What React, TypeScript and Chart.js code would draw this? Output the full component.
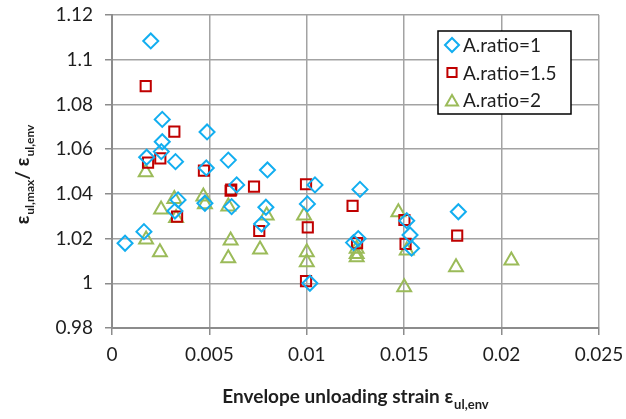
import React, { useEffect, useRef } from 'react';
import { Chart, registerables } from 'chart.js';

Chart.register(...registerables);

// Envelope unloading strain (x) and peak unloading strain ratio (y), per aspect ratio
const strainAR1 = [0.00067, 0.00164, 0.00199, 0.00178, 0.00258, 0.00258, 0.00253, 0.00326, 0.00488, 0.00484, 0.00597, 0.00798, 0.0064, 0.00477, 0.00339, 0.00323, 0.00614, 0.0079, 0.00768, 0.01042, 0.01003, 0.01016, 0.01273, 0.01264, 0.0124, 0.01513, 0.0153, 0.01538, 0.01778];
const ratioAR1 = [1.0179, 1.0231, 1.1084, 1.0564, 1.0733, 1.0633, 1.0589, 1.0544, 1.0677, 1.0516, 1.0551, 1.0507, 1.044, 1.0358, 1.0373, 1.0323, 1.0343, 1.034, 1.0265, 1.044, 1.0355, 1.0, 1.042, 1.02, 1.0182, 1.028, 1.0216, 1.0157, 1.032];

const strainAR15 = [0.00173, 0.0032, 0.00248, 0.00185, 0.00472, 0.00609, 0.00612, 0.00729, 0.00334, 0.00756, 0.00996, 0.01005, 0.00996, 0.01235, 0.01258, 0.01501, 0.01507, 0.01772];
const ratioAR15 = [1.0882, 1.0678, 1.0559, 1.054, 1.0504, 1.0414, 1.0419, 1.0432, 1.0298, 1.0234, 1.0443, 1.025, 1.001, 1.0346, 1.018, 1.0283, 1.0176, 1.0213];

const strainAR2 = [0.00173, 0.0032, 0.00252, 0.00329, 0.00175, 0.00246, 0.00469, 0.00477, 0.00597, 0.00794, 0.00609, 0.00597, 0.0076, 0.00986, 0.01, 0.01, 0.01256, 0.01256, 0.01256, 0.0147, 0.01513, 0.015, 0.01766, 0.0205];
const ratioAR2 = [1.0497, 1.0377, 1.033, 1.0292, 1.0196, 1.0139, 1.0388, 1.0354, 1.0343, 1.0303, 1.0191, 1.0112, 1.0151, 1.0303, 1.0139, 1.0094, 1.0154, 1.0131, 1.0116, 1.0318, 1.0147, 0.9982, 1.0072, 1.0102];

const seriesLabels = ['A.ratio=1', 'A.ratio=1.5', 'A.ratio=2'];
const xTickLabels = ['0', '0.005', '0.01', '0.015', '0.02', '0.025'];
const yTickLabels = ['0.98', '1', '1.02', '1.04', '1.06', '1.08', '1.1', '1.12'];

const BLUE = '#12aef0';
const RED = '#c00000';
const GREEN = '#9bbb59';
const FONT = 'Lato, "Open Sans", sans-serif';
const TEXT = '#1e1e1e';

const toPoints = (xs: number[], ys: number[]) => xs.map((x, i) => ({ x, y: ys[i] }));

const pickLabel = (labels: string[], value: number) => {
  const hit = labels.find((l) => Math.abs(Number(l) - value) < 1e-9);
  return hit === undefined ? '' : hit;
};

type Part = { text: string; sub?: string };

// Draws a run of text with subscripts, centred on (cx, baseline)
function drawSubscripted(ctx: CanvasRenderingContext2D, parts: Part[], cx: number, baseline: number, mainSize: number, subSize: number) {
  const mainFont = `bold ${mainSize}px ${FONT}`;
  const subFont = `bold ${subSize}px ${FONT}`;
  let total = 0;
  parts.forEach((p) => {
    ctx.font = mainFont;
    total += ctx.measureText(p.text).width;
    if (p.sub) {
      ctx.font = subFont;
      total += ctx.measureText(p.sub).width + 1;
    }
  });
  let x = cx - total / 2;
  ctx.textAlign = 'left';
  ctx.textBaseline = 'alphabetic';
  ctx.fillStyle = TEXT;
  parts.forEach((p) => {
    ctx.font = mainFont;
    ctx.fillText(p.text, x, baseline);
    x += ctx.measureText(p.text).width;
    if (p.sub) {
      ctx.font = subFont;
      ctx.fillText(p.sub, x + 1, baseline + subSize * 0.45);
      x += ctx.measureText(p.sub).width + 1;
    }
  });
}

function drawMarker(ctx: CanvasRenderingContext2D, style: string, x: number, y: number, r: number, color: string) {
  ctx.save();
  ctx.strokeStyle = color;
  ctx.lineWidth = 2;
  ctx.beginPath();
  if (style === 'rectRot') {
    ctx.moveTo(x - r, y);
    ctx.lineTo(x, y - r);
    ctx.lineTo(x + r, y);
    ctx.lineTo(x, y + r);
    ctx.closePath();
  } else if (style === 'rect') {
    const s = r * Math.SQRT1_2;
    ctx.rect(x - s, y - s, 2 * s, 2 * s);
  } else {
    const h = r * 0.866;
    ctx.moveTo(x, y - r);
    ctx.lineTo(x + h, y + r / 2);
    ctx.lineTo(x - h, y + r / 2);
    ctx.closePath();
  }
  ctx.stroke();
  ctx.restore();
}

const titlesAndKey = {
  id: 'titlesAndKey',
  afterDraw(chart: any) {
    const ctx: CanvasRenderingContext2D = chart.ctx;
    const area = chart.chartArea;
    ctx.save();

    // x-axis title
    drawSubscripted(ctx, [{ text: 'Envelope unloading strain ε', sub: 'ul,env' }], (area.left + area.right) / 2, 403, 19, 13);

    // y-axis title, rotated
    ctx.save();
    ctx.translate(29, (area.top + area.bottom) / 2 + 3);
    ctx.rotate(-Math.PI / 2);
    drawSubscripted(ctx, [{ text: 'ε', sub: 'ul,max' }, { text: '/ ε', sub: 'ul,env' }], 0, 0, 19, 12);
    ctx.restore();

    // key box
    const bx = 438, by = 31, bw = 133, bh = 83;
    ctx.fillStyle = '#ffffff';
    ctx.fillRect(bx, by, bw, bh);
    ctx.strokeStyle = '#000000';
    ctx.lineWidth = 1.5;
    ctx.strokeRect(bx, by, bw, bh);

    const rowY = [45, 72.5, 100];
    chart.data.datasets.forEach((ds: any, i: number) => {
      const cy = rowY[i];
      const cyMarker = ds.pointStyle === 'triangle' ? cy + 2 : cy;
      drawMarker(ctx, ds.pointStyle, 452, cyMarker, ds.pointStyle === 'rect' ? 6.5 : 7, ds.borderColor);
      ctx.font = `19px ${FONT}`;
      ctx.fillStyle = TEXT;
      ctx.textAlign = 'left';
      ctx.textBaseline = 'middle';
      ctx.fillText(ds.label, 463, cy + 1);
    });
    ctx.restore();
  },
};

export default function App() {
  const canvasRef = useRef<HTMLCanvasElement | null>(null);

  useEffect(() => {
    document.body.style.margin = '0';
    const canvas = canvasRef.current;
    if (!canvas) return;

    const chart = new Chart(canvas, {
      type: 'scatter',
      data: {
        datasets: [
          {
            label: seriesLabels[0],
            data: toPoints(strainAR1, ratioAR1),
            pointStyle: 'rectRot',
            pointRadius: 7.5,
            borderColor: BLUE,
            backgroundColor: 'rgba(0,0,0,0)',
            borderWidth: 2,
          },
          {
            label: seriesLabels[1],
            data: toPoints(strainAR15, ratioAR15),
            pointStyle: 'rect',
            pointRadius: 7.2,
            borderColor: RED,
            backgroundColor: 'rgba(0,0,0,0)',
            borderWidth: 2,
          },
          {
            label: seriesLabels[2],
            data: toPoints(strainAR2, ratioAR2),
            pointStyle: 'triangle',
            pointRadius: 8,
            borderColor: GREEN,
            backgroundColor: 'rgba(0,0,0,0)',
            borderWidth: 2,
          },
        ],
      },
      options: {
        animation: false,
        responsive: false,
        maintainAspectRatio: false,
        devicePixelRatio: 1,
        layout: { padding: { top: 15, right: 27, bottom: 0, left: 0 } },
        plugins: {
          legend: { display: false },
          tooltip: { enabled: false },
        },
        scales: {
          x: {
            type: 'linear',
            min: 0,
            max: 0.025,
            ticks: {
              stepSize: 0.005,
              padding: 8,
              color: TEXT,
              font: { family: FONT, size: 19 },
              callback: (v: any) => pickLabel(xTickLabels, Number(v)),
              maxRotation: 0,
            },
            grid: { color: '#a3a3a3', lineWidth: 1.5, tickLength: 7, tickColor: '#8c8c8c' },
            border: { color: '#8c8c8c', width: 2 },
            afterFit: (s: any) => {
              s.height = 91;
              s.paddingLeft = 0;
              s.paddingRight = 0;
            },
          },
          y: {
            type: 'linear',
            min: 0.98,
            max: 1.12,
            ticks: {
              stepSize: 0.02,
              padding: 12,
              color: TEXT,
              font: { family: FONT, size: 19 },
              callback: (v: any) => pickLabel(yTickLabels, Number(v)),
            },
            grid: { color: '#a3a3a3', lineWidth: 1.5, tickLength: 7, tickColor: '#8c8c8c' },
            border: { color: '#8c8c8c', width: 2 },
            afterFit: (s: any) => {
              s.width = 112;
              s.paddingTop = 0;
              s.paddingBottom = 0;
            },
          },
        },
      },
      plugins: [titlesAndKey],
    });

    return () => chart.destroy();
  }, []);

  return (
    <div style={{ width: 626, height: 419, background: '#ffffff' }}>
      <canvas ref={canvasRef} width={626} height={419} style={{ width: 626, height: 419, display: 'block' }} />
    </div>
  );
}
